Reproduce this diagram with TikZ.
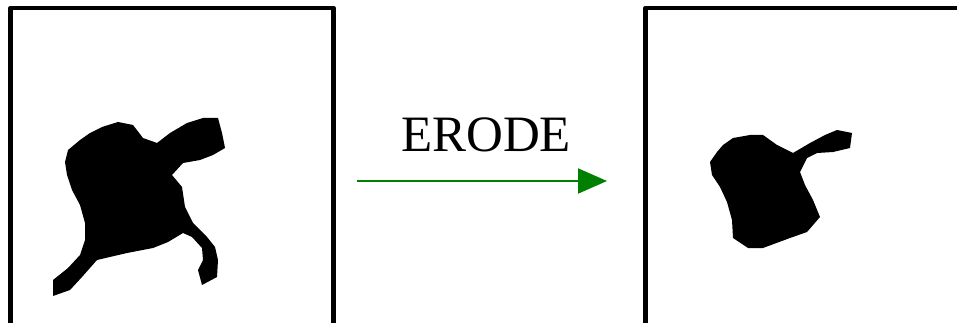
\documentclass[tikz,border=0pt]{standalone}
\usepackage{fontspec}
\setmainfont{Liberation Serif}
\usetikzlibrary{arrows.meta}
\definecolor{arrowgreen}{RGB}{0,128,0}

\begin{document}
\begin{tikzpicture}[x=1pt,y=-1pt]
\useasboundingbox (0,0) rectangle (957,323);
\clip (0,0) rectangle (957,323);
\draw[line width=4.5pt, line join=round] (10.5,340) -- (10.5,8) -- (333.5,8) -- (333.5,340);
\draw[line width=4.5pt, line join=round] (645.7,340) -- (645.7,8) -- (980,8);
\fill[black] (53,296) -- (53,280) -- (68,268) -- (80,255) -- (85,240) -- (85,223) -- (80,205) -- (72,190) -- (67,175) -- (65,162) -- (68,150) -- (80,140) -- (90,133) -- (102,127) -- (118,122) -- (133,125) -- (143,138) -- (157,143) -- (170,133) -- (187,123) -- (203,118) -- (218,118) -- (222,133) -- (225,148) -- (213,155) -- (200,160) -- (183,163) -- (172,175) -- (182,187) -- (185,207) -- (193,223) -- (207,237) -- (215,247) -- (218,260) -- (217,277) -- (202,285) -- (198,270) -- (203,260) -- (202,248) -- (192,237) -- (183,233) -- (168,242) -- (153,248) -- (127,253) -- (97,260) -- (82,277) -- (70,290) -- cycle;
\fill[black] (710,162) -- (717,152) -- (723,145) -- (733,138) -- (750,135) -- (763,135) -- (777,145) -- (793,153) -- (810,143) -- (825,135) -- (837,130) -- (852,133) -- (850,148) -- (833,152) -- (817,153) -- (807,158) -- (800,172) -- (805,185) -- (813,200) -- (820,217) -- (807,232) -- (790,238) -- (763,248) -- (748,248) -- (733,238) -- (732,220) -- (727,202) -- (720,187) -- (712,175) -- cycle;
\node[font=\fontsize{51}{60}\selectfont, inner sep=0pt, anchor=base] (erode) at (486,152) {ERODE};
\coordinate (from) at (357,181);
\coordinate (to) at (607,181);
\draw[arrowgreen, line width=2pt, -{Triangle[length=29pt, width=25pt]}] (from) -- (to);
\end{tikzpicture}
\end{document}
